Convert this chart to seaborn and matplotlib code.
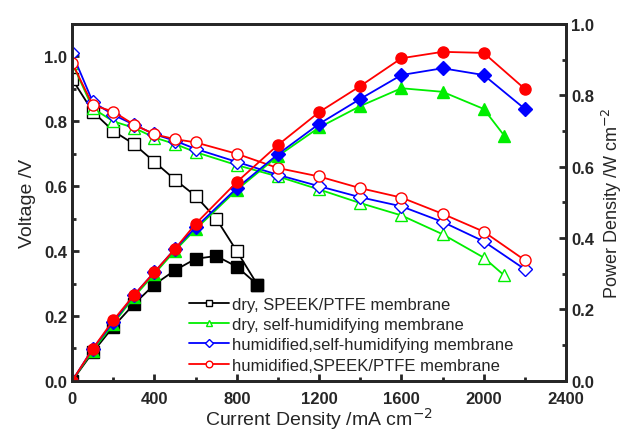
import matplotlib
matplotlib.use("Agg")
import matplotlib.pyplot as plt
import seaborn as sns
from matplotlib.ticker import MultipleLocator, FormatStrFormatter

# ---------------------------------------------------------------------------
# Data (current in mA cm-2, voltage in V, power in W cm-2)
# ---------------------------------------------------------------------------
black_i = [0, 100, 200, 300, 400, 500, 600, 700, 800, 900]
black_v = [0.93, 0.83, 0.77, 0.73, 0.675, 0.62, 0.57, 0.50, 0.40, 0.297]
black_p = [0.0, 0.08, 0.152, 0.215, 0.27, 0.31, 0.342, 0.35, 0.32, 0.27]

green_i = [0, 100, 200, 300, 400, 500, 600, 800, 1000, 1200, 1400, 1600, 1800, 2000, 2100]
green_v = [0.98, 0.84, 0.80, 0.78, 0.75, 0.73, 0.705, 0.665, 0.63, 0.59, 0.548, 0.51, 0.452, 0.38, 0.325]
green_p = [0.0, 0.085, 0.16, 0.235, 0.30, 0.365, 0.425, 0.535, 0.63, 0.71, 0.77, 0.82, 0.81, 0.762, 0.687]

blue_i = [0, 100, 200, 300, 400, 500, 600, 800, 1000, 1200, 1400, 1600, 1800, 2000, 2200]
blue_v = [1.01, 0.86, 0.82, 0.79, 0.76, 0.74, 0.715, 0.675, 0.635, 0.60, 0.566, 0.538, 0.49, 0.43, 0.344]
blue_p = [0.0, 0.09, 0.165, 0.24, 0.305, 0.37, 0.43, 0.54, 0.635, 0.72, 0.79, 0.857, 0.876, 0.857, 0.762]

red_i = [0, 100, 200, 300, 400, 500, 600, 800, 1000, 1200, 1400, 1600, 1800, 2000, 2200]
red_v = [0.98, 0.85, 0.83, 0.79, 0.76, 0.745, 0.735, 0.70, 0.656, 0.63, 0.594, 0.565, 0.515, 0.46, 0.372]
red_p = [0.0, 0.09, 0.17, 0.24, 0.305, 0.37, 0.44, 0.557, 0.661, 0.753, 0.826, 0.904, 0.922, 0.919, 0.818]

labels = ["dry, SPEEK/PTFE membrane",
          "dry, self-humidifying membrane",
          "humidified,self-humidifying membrane",
          "humidified,SPEEK/PTFE membrane"]

series = [
    (black_i, black_v, black_p, "#000000", "s"),
    (green_i, green_v, green_p, "#00ee00", "^"),
    (blue_i, blue_v, blue_p, "#0000ff", "D"),
    (red_i, red_v, red_p, "#ff0000", "o"),
]

sns.set_style("ticks")
plt.rcParams.update({
    "font.family": ["Liberation Sans", "DejaVu Sans"],
    "xtick.direction": "in",
    "ytick.direction": "in",
    "axes.linewidth": 2.0,
})

fig = plt.figure(figsize=(6.22, 4.31), dpi=100)
ax = fig.add_axes([0.116, 0.114, 0.794, 0.828])
ax2 = ax.twinx()

handles = []
for (cur, volt, power, col, mk), lab in zip(series, labels):
    msize = 7 if mk == "D" else 8
    # voltage: open markers, left axis
    sns.lineplot(x=cur, y=volt, ax=ax, color=col, marker=mk, markersize=msize,
                 markerfacecolor="white", markeredgecolor=col, markeredgewidth=1.0,
                 linewidth=1.3, sort=False, estimator=None)
    handles.append(ax.lines[-1])
    # power density: filled markers, right axis
    sns.lineplot(x=cur, y=power, ax=ax2, color=col, marker=mk, markersize=msize,
                 markerfacecolor=col, markeredgecolor=col, markeredgewidth=1.0,
                 linewidth=1.3, sort=False, estimator=None)

ax.set_xlim(0, 2400)
ax.set_ylim(0, 1.1)
ax2.set_ylim(0, 1.0)

ax.xaxis.set_major_locator(MultipleLocator(400))
ax.xaxis.set_minor_locator(MultipleLocator(200))
ax.yaxis.set_major_locator(MultipleLocator(0.2))
ax.yaxis.set_minor_locator(MultipleLocator(0.1))
ax2.yaxis.set_major_locator(MultipleLocator(0.2))
ax2.yaxis.set_minor_locator(MultipleLocator(0.1))
ax.yaxis.set_major_formatter(FormatStrFormatter("%.1f"))
ax2.yaxis.set_major_formatter(FormatStrFormatter("%.1f"))

for a in (ax, ax2):
    a.tick_params(which="major", length=5, width=2, labelsize=12)
    a.tick_params(which="minor", length=3, width=2)
ax.tick_params(axis="x", which="both", top=False, pad=7)
for t in ax.get_yticklabels() + ax2.get_yticklabels() + ax.get_xticklabels():
    t.set_fontweight("bold")

ax.set_xlabel("Current Density /mA cm$^{-2}$", fontsize=14, labelpad=0)
ax.set_ylabel("Voltage /V", fontsize=14, labelpad=6)
ax2.set_ylabel("Power Density /W cm$^{-2}$", fontsize=13, labelpad=4)

ax2.legend(handles, labels, loc="lower left", bbox_to_anchor=(0.22, 0.0),
           frameon=False, fontsize=12, handlelength=2.4, handletextpad=0.2,
           labelspacing=0.32, borderaxespad=0.1, markerscale=0.6)

fig.savefig("out.png", dpi=100)
